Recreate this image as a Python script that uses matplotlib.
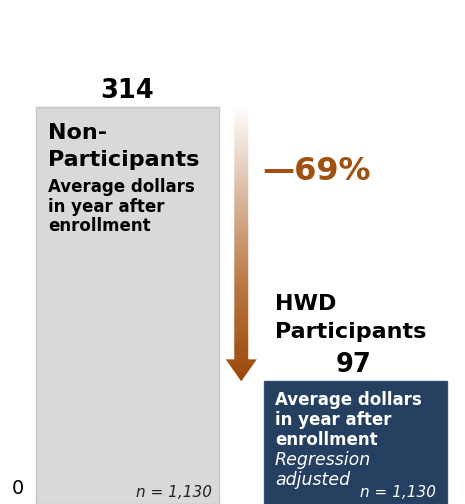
import numpy as np
import matplotlib
matplotlib.use("Agg")
import matplotlib.pyplot as plt
from matplotlib.patches import Polygon
from matplotlib.colors import LinearSegmentedColormap

# ---- data ----
categories = ["Non-Participants", "HWD Participants"]
values = [314, 97]
value_labels = ["314", "97"]
change_label = "\u201469%"
n_labels = ["n = 1,130", "n = 1,130"]

W, H = 465, 504
fig = plt.figure(figsize=(W / 100, H / 100), dpi=100)
plt.rcParams['font.family'] = ['DejaVu Sans']

# axes spanning the whole figure; y=0 at bottom edge, 314 at pixel 107
ymax = values[0] * H / (H - 107)
ax = fig.add_axes([0, 0, 1, 1])
x = np.arange(len(categories))
spacing = 227.5
left = -127.5 / spacing
right = 1 + (W - 355) / spacing
ax.set_xlim(left, right)
ax.set_ylim(0, ymax)
ax.axis("off")

bw = 183 / spacing
ax.bar(x[0], values[0], width=bw, color="#D9D9D9", edgecolor="#C3C3C3", linewidth=1, zorder=2)
ax.bar(x[1], values[1], width=bw, color="#243F60", edgecolor="#34506F", linewidth=1, zorder=2)

# gradient arrow
xc = (x[0] + x[1]) / 2
ppy = (H - 107) / values[0]  # pixels per unit
shaft_w = 14 / spacing
head_w = 31 / spacing
head_l = 22 / ppy
y0, y1 = values[0], values[1]
verts = [
    (xc - shaft_w / 2, y0), (xc + shaft_w / 2, y0),
    (xc + shaft_w / 2, y1 + head_l), (xc + head_w / 2, y1 + head_l),
    (xc, y1), (xc - head_w / 2, y1 + head_l),
    (xc - shaft_w / 2, y1 + head_l),
]
poly = Polygon(verts, closed=True, facecolor="none", edgecolor="none")
ax.add_patch(poly)
cmap = LinearSegmentedColormap.from_list("g", ["#FFFFFF", "#D9B79E", "#B97540", "#9A4708"])
grad = np.linspace(0, 1, 256).reshape(-1, 1)
im = ax.imshow(grad, cmap=cmap, aspect="auto",
               extent=(xc - head_w, xc + head_w, y1, y0), zorder=3)
im.set_clip_path(poly)
ax.set_xlim(left, right)
ax.set_ylim(0, ymax)


def fx(px):
    return px / W


def fy(py):
    return 1 - py / H


bold = dict(fontweight="bold", color="black")
hfs = 16
# value labels
fig.text(fx(127), fy(98), value_labels[0], ha="center", va="baseline", fontsize=18.5, **bold)
fig.text(fx(353), fy(372), value_labels[1], ha="center", va="baseline", fontsize=18.5, **bold)

# bar 1 text
fig.text(fx(48), fy(139), "Non-", ha="left", va="baseline", fontsize=hfs, **bold)
fig.text(fx(48), fy(166), "Participants", ha="left", va="baseline", fontsize=hfs, **bold)
for i, (line, b) in enumerate(zip(["Average dollars", "in year after", "enrollment"], [192, 212, 231])):
    fig.text(fx(48), fy(b), line, ha="left", va="baseline", fontsize=12, **bold)

# change label
fig.text(fx(262), fy(180), change_label, ha="left", va="baseline", fontsize=23,
         fontweight="bold", color="#A0500F")

# bar 2 headers
fig.text(fx(275), fy(310), "HWD", ha="left", va="baseline", fontsize=hfs, **bold)
fig.text(fx(275), fy(338), "Participants", ha="left", va="baseline", fontsize=hfs, **bold)
for i, line in enumerate(["Average dollars", "in year after", "enrollment"]):
    fig.text(fx(275), fy(405 + 20 * i), line, ha="left", va="baseline", fontsize=12,
             fontweight="bold", color="white")
fig.text(fx(275), fy(465), "Regression", ha="left", va="baseline", fontsize=12.5,
         style="italic", color="white")
fig.text(fx(275), fy(485), "adjusted", ha="left", va="baseline", fontsize=12.5,
         style="italic", color="white")

# n labels
fig.text(fx(212), fy(497), n_labels[0], ha="right", va="baseline", fontsize=11,
         style="italic", color="#222222")
fig.text(fx(436), fy(497), n_labels[1], ha="right", va="baseline", fontsize=11,
         style="italic", color="white")

# zero label
fig.text(fx(18), fy(494), "0", ha="center", va="baseline", fontsize=14, color="black")

fig.savefig("out.png", dpi=100)
